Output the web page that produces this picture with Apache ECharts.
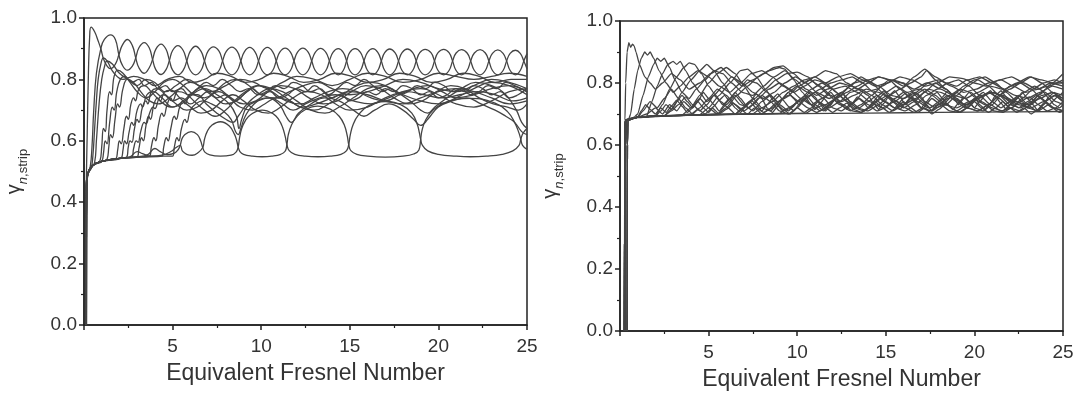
<!DOCTYPE html>
<html><head><meta charset="utf-8">
<script src="https://cdn.jsdelivr.net/npm/echarts@6/dist/echarts.min.js"></script>
<style>html,body{margin:0;padding:0;background:#fff}#c{width:1084px;height:396px}</style>
</head><body><div id="c"></div>
<script>
// ---------- tick labels ----------
const xTicks = [5, 10, 15, 20, 25];
const yTicks = [0.0, 0.2, 0.4, 0.6, 0.8, 1.0];
const xTitle = 'Equivalent Fresnel Number';

// ---------- LEFT PANEL curves [x, y] ----------
const L_A = [[0.1,0],[0.13,0.45],[0.18,0.62],[0.25,0.82],[0.32,0.94],[0.4,0.97],[0.6,0.955],[0.8,0.925],[0.95,0.9],[1.15,0.86],[1.5,0.835],[1.77,0.85],[1.97,0.88],[2.15,0.91],[2.45,0.93],[2.73,0.91],[2.92,0.87],[3.1,0.838],[3.4,0.82],[3.68,0.838],[3.87,0.865],[4.05,0.898],[4.35,0.915],[4.63,0.898],[4.82,0.862],[5.0,0.83],[5.3,0.815],[5.6,0.83],[5.8,0.86],[6.0,0.892],[6.3,0.908],[6.6,0.892],[6.8,0.86],[7.0,0.829],[7.3,0.815],[7.62,0.829],[7.82,0.86],[8.03,0.891],[8.35,0.905],[8.65,0.891],[8.85,0.86],[9.05,0.829],[9.35,0.815],[9.65,0.829],[9.85,0.86],[10.05,0.89],[10.35,0.904],[10.65,0.89],[10.85,0.86],[11.05,0.829],[11.35,0.815],[11.65,0.829],[11.85,0.86],[12.05,0.889],[12.35,0.902],[12.65,0.889],[12.85,0.86],[13.05,0.829],[13.35,0.815],[13.65,0.829],[13.85,0.86],[14.05,0.888],[14.35,0.9],[14.63,0.888],[14.82,0.86],[15.0,0.829],[15.3,0.815],[15.6,0.829],[15.8,0.86],[16.0,0.888],[16.3,0.9],[16.58,0.888],[16.78,0.86],[16.97,0.829],[17.25,0.815],[17.55,0.829],[17.75,0.86],[17.95,0.887],[18.25,0.899],[18.55,0.887],[18.75,0.86],[18.95,0.829],[19.25,0.815],[19.58,0.829],[19.78,0.86],[19.98,0.887],[20.3,0.898],[20.6,0.887],[20.8,0.86],[21.0,0.829],[21.3,0.815],[21.62,0.829],[21.82,0.86],[22.03,0.886],[22.35,0.897],[22.65,0.886],[22.85,0.86],[23.05,0.829],[23.35,0.815],[23.65,0.829],[23.85,0.86],[24.05,0.885],[24.35,0.895],[24.62,0.885],[24.82,0.86],[25,0.835]];
const L_B = [[0.12,0],[0.15,0.45],[0.2,0.49],[0.35,0.515],[0.45,0.58],[0.55,0.7],[0.7,0.82],[0.95,0.9],[1.15,0.93],[1.5,0.945],[1.77,0.93],[1.97,0.88],[2.15,0.848],[2.45,0.83],[2.73,0.843],[2.92,0.87],[3.1,0.903],[3.4,0.92],[3.68,0.903],[3.87,0.865],[4.05,0.832],[4.35,0.816],[4.63,0.832],[4.82,0.862],[5.0,0.894],[5.3,0.91],[5.6,0.894],[5.8,0.86],[6.0,0.829],[6.3,0.815],[6.6,0.829],[6.8,0.86],[7.0,0.892],[7.3,0.906],[7.62,0.892],[7.82,0.86],[8.03,0.829],[8.35,0.815],[8.65,0.829],[8.85,0.86],[9.05,0.89],[9.35,0.904],[9.65,0.89],[9.85,0.86],[10.05,0.829],[10.35,0.815],[10.65,0.829],[10.85,0.86],[11.05,0.889],[11.35,0.902],[11.65,0.889],[11.85,0.86],[12.05,0.829],[12.35,0.815],[12.65,0.829],[12.85,0.86],[13.05,0.888],[13.35,0.901],[13.65,0.888],[13.85,0.86],[14.05,0.829],[14.35,0.815],[14.63,0.829],[14.82,0.86],[15.0,0.888],[15.3,0.9],[15.6,0.888],[15.8,0.86],[16.0,0.829],[16.3,0.815],[16.58,0.829],[16.78,0.86],[16.97,0.887],[17.25,0.899],[17.55,0.887],[17.75,0.86],[17.95,0.829],[18.25,0.815],[18.55,0.829],[18.75,0.86],[18.95,0.887],[19.25,0.898],[19.58,0.887],[19.78,0.86],[19.98,0.829],[20.3,0.815],[20.6,0.829],[20.8,0.86],[21.0,0.886],[21.3,0.897],[21.62,0.886],[21.82,0.86],[22.03,0.829],[22.35,0.815],[22.65,0.829],[22.85,0.86],[23.05,0.885],[23.35,0.896],[23.65,0.885],[23.85,0.86],[24.05,0.829],[24.35,0.815],[24.62,0.829],[24.82,0.86],[25,0.884]];
const L_P = [[0.1,0],[0.16,0.46],[0.25,0.5],[0.5,0.52],[1,0.533],[2,0.543],[3,0.548],[3.6,0.555],[4.0,0.575],[4.3,0.565],[4.7,0.555],[5.1,0.56],[5.3,0.57],[5.43,0.585],[5.52,0.605],[5.68,0.62],[6.05,0.63],[6.4,0.62],[6.58,0.6],[6.7,0.578],[6.82,0.563],[7.1,0.554],[7.7,0.55],[8.3,0.553],[8.58,0.563],[8.7,0.58],[8.78,0.61],[8.9,0.64],[9.1,0.665],[9.4,0.685],[10.05,0.7],[10.7,0.687],[11.0,0.668],[11.2,0.645],[11.35,0.615],[11.45,0.588],[11.58,0.568],[11.9,0.556],[12.5,0.55],[13.2,0.548],[13.9,0.55],[14.5,0.556],[14.82,0.568],[14.94,0.588],[15.03,0.62],[15.2,0.655],[15.5,0.685],[16.0,0.712],[17.0,0.728],[18.0,0.714],[18.5,0.69],[18.8,0.655],[18.93,0.625],[19.0,0.605],[19.1,0.585],[19.4,0.567],[20.0,0.556],[21.0,0.55],[21.8,0.548],[22.7,0.55],[23.6,0.556],[24.2,0.567],[24.55,0.585],[24.65,0.605],[24.78,0.625],[25,0.64]];
const L_Q = [[0.1,0],[0.16,0.46],[0.25,0.5],[0.5,0.52],[1,0.533],[2,0.543],[2.6,0.548],[3.0,0.565],[3.3,0.558],[3.8,0.55],[4.4,0.553],[4.9,0.565],[5.2,0.578],[5.43,0.585],[5.56,0.566],[5.8,0.556],[6.1,0.553],[6.45,0.562],[6.7,0.578],[6.8,0.605],[6.95,0.63],[7.2,0.65],[7.7,0.662],[8.2,0.648],[8.5,0.62],[8.62,0.6],[8.7,0.58],[8.8,0.565],[9.0,0.556],[9.5,0.55],[10.05,0.548],[10.6,0.55],[11.1,0.556],[11.35,0.566],[11.45,0.588],[11.53,0.62],[11.7,0.65],[12.0,0.678],[12.5,0.702],[13.2,0.713],[13.9,0.703],[14.4,0.68],[14.7,0.65],[14.86,0.615],[14.94,0.588],[15.06,0.568],[15.4,0.556],[16.0,0.55],[17.0,0.547],[18.0,0.55],[18.6,0.557],[18.9,0.57],[19.0,0.605],[19.08,0.635],[19.3,0.67],[19.7,0.7],[20.4,0.725],[21.8,0.738],[23.2,0.723],[23.9,0.695],[24.3,0.66],[24.55,0.625],[24.65,0.605],[24.75,0.585],[25,0.572]];
const L_M1 = [[0.1,0],[0.13,0.45],[0.2,0.49],[0.4,0.51],[0.6,0.53],[0.7,0.6],[0.85,0.72],[1.0,0.8],[1.15,0.84],[1.3,0.86],[1.6,0.85],[2.0,0.82],[2.5,0.8],[3.0,0.78],[3.5,0.8],[4.0,0.79],[4.6,0.76],[5.2,0.78],[5.8,0.8],[6.5,0.78],[7.2,0.76],[8.0,0.78],[8.8,0.8],[9.6,0.79],[10.4,0.77],[11.2,0.79],[12.0,0.81],[13.0,0.8],[14.0,0.78],[15.0,0.8],[16.0,0.82],[17.0,0.81],[18.0,0.79],[19.0,0.8],[20.0,0.82],[21.0,0.81],[22.0,0.8],[23.0,0.81],[24.0,0.82],[25,0.81]];
const L_M2 = [[0.1,0],[0.13,0.45],[0.2,0.49],[0.5,0.52],[0.9,0.535],[1.0,0.58],[1.1,0.64],[1.2,0.63],[1.3,0.7],[1.45,0.76],[1.55,0.75],[1.7,0.81],[1.9,0.83],[2.2,0.82],[2.6,0.79],[3.0,0.76],[3.5,0.74],[4.0,0.76],[4.5,0.79],[5.0,0.8],[5.6,0.78],[6.2,0.75],[6.8,0.74],[7.4,0.76],[8.0,0.79],[8.6,0.8],[9.3,0.78],[10.0,0.75],[10.8,0.74],[11.6,0.76],[12.4,0.78],[13.2,0.79],[14.0,0.77],[15.0,0.75],[16.0,0.76],[17.0,0.78],[18.0,0.8],[19.0,0.79],[20.0,0.77],[21.0,0.76],[22.0,0.78],[23.0,0.8],[24.0,0.79],[25,0.77]];
const L_M3 = [[0.12,0],[0.15,0.45],[0.2,0.49],[0.5,0.52],[1.0,0.533],[1.3,0.54],[1.4,0.58],[1.5,0.62],[1.6,0.61],[1.75,0.67],[1.9,0.72],[2.0,0.71],[2.2,0.77],[2.45,0.8],[2.8,0.79],[3.2,0.76],[3.7,0.73],[4.2,0.72],[4.8,0.74],[5.4,0.77],[6.0,0.79],[6.7,0.77],[7.4,0.74],[8.0,0.72],[8.6,0.73],[9.2,0.76],[9.9,0.78],[10.6,0.76],[11.4,0.73],[12.2,0.72],[13.0,0.74],[13.8,0.76],[14.6,0.77],[15.4,0.76],[16.2,0.74],[17.0,0.73],[17.8,0.75],[18.6,0.77],[19.4,0.78],[20.2,0.76],[21.0,0.74],[22.0,0.75],[23.0,0.77],[24.0,0.78],[25,0.76]];
const L_M4 = [[0.1,0],[0.13,0.45],[0.2,0.49],[0.5,0.52],[1.0,0.533],[1.8,0.542],[1.9,0.57],[2.0,0.6],[2.1,0.59],[2.25,0.64],[2.4,0.68],[2.5,0.67],[2.65,0.72],[2.8,0.74],[2.9,0.73],[3.1,0.77],[3.4,0.78],[3.8,0.76],[4.3,0.73],[4.9,0.71],[5.5,0.72],[6.1,0.75],[6.8,0.77],[7.5,0.75],[8.2,0.72],[8.6,0.68],[8.75,0.64],[8.9,0.67],[9.2,0.71],[9.8,0.73],[10.5,0.74],[11.2,0.72],[11.8,0.7],[12.5,0.72],[13.3,0.74],[14.2,0.75],[15.2,0.73],[16.2,0.72],[17.2,0.74],[18.2,0.76],[19.2,0.75],[20.2,0.74],[21.2,0.75],[22.2,0.76],[23.2,0.75],[24.2,0.73],[25,0.74]];
const L_M5 = [[0.14,0],[0.17,0.46],[0.22,0.49],[0.5,0.52],[1.0,0.533],[2.0,0.543],[2.4,0.546],[2.5,0.58],[2.6,0.6],[2.7,0.595],[2.85,0.64],[3.0,0.67],[3.1,0.66],[3.3,0.71],[3.5,0.73],[3.6,0.72],[3.8,0.76],[4.1,0.77],[4.6,0.75],[5.2,0.72],[5.8,0.7],[6.4,0.71],[7.0,0.74],[7.6,0.76],[8.2,0.74],[8.8,0.71],[9.5,0.7],[10.2,0.72],[10.9,0.74],[11.6,0.73],[12.3,0.71],[13.1,0.72],[14.0,0.74],[15.0,0.76],[16.0,0.75],[17.0,0.73],[18.0,0.72],[19.0,0.74],[20.0,0.76],[21.0,0.77],[22.0,0.76],[23.0,0.74],[24.0,0.72],[25,0.73]];
const L_M6 = [[0.1,0],[0.13,0.45],[0.2,0.49],[0.5,0.52],[1.0,0.533],[2.0,0.543],[3.0,0.547],[3.1,0.575],[3.25,0.61],[3.35,0.6],[3.5,0.65],[3.65,0.68],[3.75,0.67],[3.95,0.72],[4.15,0.74],[4.3,0.73],[4.55,0.76],[4.9,0.765],[5.4,0.74],[6.0,0.71],[6.6,0.69],[7.2,0.7],[7.8,0.73],[8.4,0.75],[9.0,0.73],[9.7,0.7],[10.4,0.69],[11.1,0.71],[11.8,0.74],[12.6,0.76],[13.4,0.75],[14.2,0.72],[15.0,0.7],[16.0,0.71],[17.0,0.74],[18.0,0.76],[19.0,0.77],[20.0,0.75],[21.0,0.72],[22.0,0.71],[23.0,0.73],[24.0,0.76],[25,0.77]];
const L_M7 = [[0.12,0],[0.15,0.45],[0.2,0.49],[0.5,0.52],[1.0,0.533],[2.0,0.543],[3.0,0.547],[3.7,0.55],[3.8,0.58],[3.95,0.61],[4.05,0.6],[4.2,0.65],[4.4,0.69],[4.5,0.68],[4.7,0.72],[4.9,0.74],[5.0,0.73],[5.3,0.76],[5.7,0.755],[6.2,0.73],[6.8,0.7],[7.4,0.68],[8.0,0.7],[8.5,0.73],[9.1,0.76],[9.8,0.78],[10.6,0.77],[11.4,0.74],[12.2,0.71],[13.0,0.7],[13.8,0.72],[14.6,0.75],[15.4,0.78],[16.2,0.79],[17.0,0.78],[18.0,0.75],[19.0,0.73],[20.0,0.72],[21.0,0.74],[22.0,0.77],[23.0,0.79],[24.0,0.78],[25,0.75]];
const L_M8 = [[0.1,0],[0.13,0.45],[0.2,0.49],[0.5,0.52],[1.0,0.533],[2.0,0.543],[3.0,0.547],[4.4,0.55],[4.5,0.58],[4.65,0.61],[4.75,0.6],[4.9,0.64],[5.1,0.68],[5.2,0.67],[5.4,0.71],[5.6,0.73],[5.7,0.72],[6.0,0.75],[6.4,0.75],[6.9,0.72],[7.5,0.69],[8.0,0.67],[8.4,0.66],[8.7,0.68],[9.2,0.72],[9.8,0.75],[10.5,0.77],[11.2,0.76],[12.0,0.73],[12.8,0.7],[13.6,0.69],[14.4,0.71],[15.2,0.74],[16.0,0.77],[16.8,0.78],[17.6,0.76],[18.4,0.73],[19.0,0.7],[19.4,0.69],[19.8,0.71],[20.5,0.74],[21.3,0.77],[22.1,0.79],[23.0,0.78],[23.8,0.75],[24.4,0.7],[24.7,0.66],[25,0.64]];
const L_M9 = [[0.14,0],[0.17,0.46],[0.22,0.49],[0.5,0.52],[1.0,0.533],[2.0,0.543],[3.0,0.547],[4.0,0.55],[5.0,0.55],[5.1,0.58],[5.25,0.61],[5.35,0.6],[5.5,0.64],[5.7,0.67],[5.8,0.66],[6.0,0.7],[6.3,0.72],[6.7,0.73],[7.2,0.72],[7.8,0.7],[8.3,0.67],[8.55,0.63],[8.7,0.62],[8.85,0.64],[9.1,0.68],[9.6,0.72],[10.3,0.74],[11.0,0.72],[11.4,0.68],[11.7,0.66],[12.1,0.69],[12.8,0.72],[13.6,0.74],[14.4,0.73],[15.2,0.7],[15.8,0.68],[16.4,0.7],[17.2,0.72],[18.0,0.7],[18.6,0.67],[19.0,0.65],[19.4,0.67],[20.0,0.71],[20.8,0.73],[21.6,0.74],[22.4,0.72],[23.2,0.7],[23.8,0.68],[24.3,0.66],[24.7,0.63],[25,0.62]];
const L_M10 = [[0.1,0],[0.13,0.45],[0.2,0.49],[0.4,0.51],[0.5,0.55],[0.6,0.64],[0.7,0.73],[0.8,0.8],[0.95,0.85],[1.1,0.87],[1.3,0.86],[1.7,0.82],[2.2,0.8],[2.8,0.81],[3.4,0.8],[4.0,0.78],[4.7,0.8],[5.4,0.81],[6.1,0.79],[6.8,0.8],[7.5,0.82],[8.3,0.81],[9.1,0.79],[9.9,0.8],[10.7,0.82],[11.5,0.81],[12.4,0.79],[13.3,0.8],[14.2,0.82],[15.1,0.81],[16.0,0.79],[16.9,0.8],[17.8,0.82],[18.7,0.81],[19.6,0.79],[20.5,0.8],[21.4,0.82],[22.3,0.81],[23.2,0.79],[24.1,0.8],[25,0.8]];
const L_M11 = [[0.1,0],[0.13,0.45],[0.2,0.49],[0.5,0.52],[1.0,0.533],[2.1,0.544],[2.2,0.57],[2.3,0.6],[2.4,0.59],[2.55,0.63],[2.7,0.66],[2.8,0.65],[3.0,0.7],[3.2,0.72],[3.3,0.71],[3.55,0.75],[3.9,0.76],[4.4,0.74],[5.0,0.71],[5.6,0.73],[6.2,0.76],[6.9,0.78],[7.6,0.77],[8.3,0.74],[9.0,0.72],[9.7,0.73],[10.4,0.76],[11.1,0.78],[11.9,0.77],[12.7,0.74],[13.5,0.72],[14.3,0.73],[15.1,0.76],[15.9,0.78],[16.7,0.77],[17.5,0.74],[18.3,0.72],[19.1,0.73],[19.9,0.76],[20.7,0.78],[21.5,0.77],[22.3,0.74],[23.1,0.72],[23.9,0.71],[24.5,0.7],[25,0.72]];
const L_M12 = [[0.1,0],[0.13,0.45],[0.2,0.49],[0.5,0.52],[1.0,0.533],[1.1,0.56],[1.2,0.6],[1.3,0.59],[1.45,0.66],[1.6,0.71],[1.7,0.7],[1.85,0.76],[2.05,0.8],[2.3,0.81],[2.7,0.79],[3.1,0.8],[3.4,0.78],[3.8,0.79],[4.2,0.77],[4.6,0.78],[5.0,0.76],[5.5,0.77],[5.9,0.75],[6.4,0.77],[6.9,0.79],[7.3,0.78],[7.8,0.8],[8.3,0.78],[8.8,0.76],[9.3,0.77],[9.8,0.75],[10.3,0.76],[10.8,0.78],[11.3,0.77],[11.8,0.79],[12.3,0.78],[12.8,0.76],[13.3,0.77],[13.8,0.75],[14.3,0.77],[14.8,0.79],[15.3,0.78],[15.8,0.8],[16.3,0.78],[16.8,0.76],[17.3,0.77],[17.8,0.75],[18.3,0.76],[18.8,0.78],[19.3,0.77],[19.8,0.79],[20.3,0.78],[20.8,0.76],[21.3,0.77],[21.8,0.75],[22.3,0.76],[22.8,0.78],[23.3,0.77],[23.8,0.79],[24.3,0.78],[25,0.76]];
const L_M13 = [[0.12,0],[0.15,0.45],[0.2,0.49],[0.5,0.52],[1.0,0.533],[2.0,0.543],[2.7,0.547],[2.8,0.575],[2.95,0.6],[3.05,0.595],[3.2,0.63],[3.4,0.66],[3.5,0.655],[3.7,0.69],[3.9,0.71],[4.0,0.705],[4.25,0.74],[4.5,0.75],[5.0,0.73],[5.5,0.74],[6.0,0.72],[6.5,0.74],[7.0,0.76],[7.5,0.74],[8.0,0.75],[8.5,0.73],[9.0,0.75],[9.5,0.77],[10.0,0.75],[10.5,0.76],[11.0,0.74],[11.5,0.75],[12.0,0.77],[12.5,0.76],[13.0,0.78],[13.5,0.76],[14.0,0.74],[14.5,0.75],[15.0,0.73],[15.5,0.74],[16.0,0.76],[16.5,0.75],[17.0,0.77],[17.5,0.76],[18.0,0.78],[18.5,0.77],[19.0,0.75],[19.5,0.76],[20.0,0.74],[20.5,0.75],[21.0,0.77],[21.5,0.76],[22.0,0.78],[22.5,0.77],[23.0,0.75],[23.5,0.76],[24.0,0.74],[24.5,0.75],[25,0.77]];
const leftCurves = [L_A, L_B, L_P, L_Q, L_M1, L_M2, L_M3, L_M4, L_M5, L_M6, L_M7, L_M8, L_M9, L_M10, L_M11, L_M12, L_M13];

// ---------- RIGHT PANEL curves [x, y] ----------
const R_01 = [[0.25,0],[0.26,0.6],[0.28,0.68],[0.32,0.8],[0.4,0.9],[0.5,0.93],[0.6,0.915],[0.7,0.925],[0.8,0.92],[0.9,0.9],[1.1,0.86],[1.4,0.82],[1.7,0.8],[2.0,0.78],[2.4,0.8],[2.9,0.83],[3.4,0.81],[3.9,0.78],[4.5,0.8],[5.1,0.83],[5.7,0.85],[6.3,0.82],[6.9,0.79],[7.5,0.81],[8.1,0.83],[8.7,0.85],[9.2,0.855],[9.8,0.83],[10.4,0.8],[11.0,0.82],[11.6,0.84],[12.2,0.83],[12.8,0.8],[13.4,0.78],[14.0,0.8],[14.6,0.82],[15.3,0.81],[16.0,0.79],[16.6,0.82],[17.2,0.845],[17.8,0.82],[18.4,0.8],[19.0,0.79],[19.6,0.81],[20.3,0.82],[21.0,0.8],[21.7,0.78],[22.4,0.8],[23.1,0.82],[23.8,0.81],[24.4,0.8],[25,0.83]];
const R_02 = [[0.25,0],[0.27,0.6],[0.3,0.68],[0.5,0.685],[0.6,0.7],[0.8,0.78],[1.0,0.84],[1.2,0.88],[1.4,0.9],[1.55,0.89],[1.7,0.9],[1.9,0.88],[2.2,0.84],[2.6,0.8],[3.0,0.77],[3.4,0.79],[3.9,0.82],[4.4,0.84],[5.0,0.82],[5.6,0.79],[6.2,0.77],[6.8,0.8],[7.4,0.83],[8.0,0.84],[8.6,0.82],[9.2,0.79],[9.8,0.77],[10.4,0.79],[11.0,0.81],[11.6,0.8],[12.3,0.82],[13.0,0.83],[13.7,0.81],[14.4,0.79],[15.1,0.8],[15.8,0.82],[16.5,0.81],[17.2,0.79],[17.9,0.8],[18.6,0.82],[19.3,0.815],[20.0,0.8],[20.7,0.79],[21.4,0.81],[22.1,0.82],[22.8,0.8],[23.5,0.78],[24.2,0.79],[25,0.81]];
const R_03 = [[0.25,0],[0.27,0.6],[0.3,0.68],[0.8,0.69],[1.0,0.7],[1.3,0.76],[1.6,0.82],[1.9,0.86],[2.1,0.88],[2.3,0.87],[2.5,0.88],[2.8,0.85],[3.1,0.81],[3.5,0.77],[3.9,0.75],[4.3,0.78],[4.8,0.81],[5.3,0.84],[5.8,0.83],[6.3,0.8],[6.9,0.77],[7.5,0.76],[8.1,0.79],[8.7,0.82],[9.3,0.84],[9.9,0.81],[10.5,0.78],[11.1,0.76],[11.7,0.78],[12.4,0.8],[13.1,0.79],[13.8,0.77],[14.5,0.78],[15.2,0.81],[15.9,0.8],[16.6,0.78],[17.3,0.8],[18.0,0.81],[18.7,0.79],[19.4,0.77],[20.1,0.78],[20.8,0.8],[21.5,0.81],[22.2,0.79],[22.9,0.77],[23.6,0.78],[24.3,0.8],[25,0.79]];
const R_04 = [[0.3,0],[0.32,0.6],[0.35,0.68],[1.0,0.69],[1.5,0.692],[1.8,0.74],[2.1,0.79],[2.4,0.83],[2.7,0.86],[3.0,0.87],[3.2,0.86],[3.4,0.87],[3.7,0.84],[4.1,0.8],[4.5,0.77],[4.9,0.74],[5.3,0.76],[5.8,0.79],[6.3,0.82],[6.9,0.8],[7.5,0.77],[8.1,0.75],[8.7,0.77],[9.3,0.8],[9.9,0.82],[10.5,0.8],[11.1,0.77],[11.8,0.75],[12.5,0.77],[13.2,0.8],[13.9,0.81],[14.6,0.79],[15.3,0.76],[16.0,0.75],[16.7,0.77],[17.4,0.8],[18.1,0.78],[18.8,0.76],[19.5,0.75],[20.2,0.77],[20.9,0.79],[21.6,0.78],[22.3,0.76],[23.0,0.75],[23.7,0.77],[24.4,0.79],[25,0.78]];
const R_05 = [[0.3,0],[0.32,0.6],[0.35,0.68],[1.0,0.69],[2.0,0.694],[2.4,0.73],[2.8,0.78],[3.2,0.82],[3.6,0.85],[3.9,0.865],[4.2,0.86],[4.6,0.83],[5.0,0.79],[5.4,0.76],[5.8,0.73],[6.2,0.75],[6.7,0.78],[7.2,0.81],[7.7,0.8],[8.3,0.77],[8.9,0.74],[9.5,0.76],[10.1,0.79],[10.7,0.81],[11.3,0.79],[11.9,0.76],[12.5,0.74],[13.2,0.76],[13.9,0.78],[14.6,0.77],[15.3,0.75],[16.0,0.73],[16.7,0.75],[17.4,0.78],[18.1,0.77],[18.8,0.75],[19.5,0.73],[20.2,0.75],[20.9,0.77],[21.6,0.76],[22.3,0.74],[23.0,0.73],[23.7,0.75],[24.4,0.77],[25,0.76]];
const R_06 = [[0.4,0],[0.42,0.6],[0.45,0.68],[1.0,0.69],[2.5,0.695],[3.0,0.72],[3.5,0.77],[4.0,0.81],[4.5,0.84],[4.9,0.86],[5.3,0.84],[5.8,0.8],[6.3,0.76],[6.8,0.73],[7.3,0.72],[7.8,0.75],[8.4,0.78],[9.0,0.8],[9.6,0.78],[10.2,0.75],[10.8,0.73],[11.4,0.75],[12.0,0.78],[12.7,0.79],[13.4,0.77],[14.1,0.74],[14.8,0.72],[15.5,0.74],[16.2,0.77],[16.9,0.78],[17.6,0.76],[18.3,0.73],[19.0,0.72],[19.7,0.74],[20.4,0.76],[21.1,0.77],[21.8,0.75],[22.5,0.73],[23.2,0.72],[23.9,0.74],[24.6,0.76],[25,0.75]];
const R_07 = [[0.25,0],[0.27,0.6],[0.3,0.68],[1.0,0.69],[2.0,0.693],[3.5,0.697],[4.0,0.72],[4.5,0.76],[5.0,0.8],[5.5,0.83],[6.0,0.85],[6.5,0.83],[7.0,0.79],[7.5,0.75],[8.0,0.72],[8.5,0.71],[9.0,0.74],[9.5,0.77],[10.0,0.79],[10.6,0.77],[11.2,0.74],[11.8,0.72],[12.4,0.74],[13.0,0.77],[13.6,0.78],[14.2,0.76],[14.8,0.73],[15.4,0.71],[16.0,0.73],[16.6,0.76],[17.2,0.78],[17.8,0.76],[18.4,0.73],[19.0,0.71],[19.6,0.73],[20.2,0.75],[20.8,0.77],[21.4,0.75],[22.0,0.72],[22.6,0.71],[23.2,0.73],[23.8,0.76],[24.4,0.77],[25,0.75]];
const R_08 = [[0.25,0],[0.27,0.6],[0.3,0.68],[1.0,0.69],[2.0,0.693],[3.0,0.695],[4.5,0.698],[5.0,0.72],[5.6,0.76],[6.2,0.8],[6.8,0.84],[7.2,0.845],[7.7,0.82],[8.2,0.78],[8.7,0.74],[9.2,0.71],[9.7,0.72],[10.2,0.75],[10.8,0.78],[11.4,0.8],[12.0,0.78],[12.6,0.75],[13.2,0.72],[13.8,0.71],[14.4,0.74],[15.0,0.77],[15.6,0.79],[16.2,0.77],[16.8,0.74],[17.4,0.72],[18.0,0.73],[18.6,0.76],[19.2,0.78],[19.8,0.77],[20.4,0.74],[21.0,0.72],[21.6,0.71],[22.2,0.74],[22.8,0.77],[23.4,0.79],[24.0,0.77],[24.6,0.74],[25,0.73]];
const R_09 = [[0.3,0],[0.32,0.6],[0.35,0.68],[1.0,0.69],[2.0,0.693],[3.0,0.695],[5.5,0.7],[6.0,0.72],[6.6,0.76],[7.2,0.79],[7.8,0.82],[8.4,0.84],[9.0,0.85],[9.3,0.845],[9.8,0.81],[10.3,0.77],[10.8,0.73],[11.3,0.71],[11.8,0.73],[12.4,0.76],[13.0,0.79],[13.6,0.82],[14.2,0.8],[14.8,0.77],[15.4,0.74],[16.0,0.72],[16.6,0.74],[17.2,0.77],[17.8,0.8],[18.4,0.78],[19.0,0.75],[19.6,0.72],[20.2,0.71],[20.8,0.73],[21.4,0.76],[22.0,0.79],[22.6,0.8],[23.2,0.78],[23.8,0.75],[24.4,0.72],[25,0.71]];
const R_10 = [[0.25,0],[0.27,0.6],[0.3,0.68],[1.0,0.69],[2.0,0.693],[3.0,0.695],[6.5,0.7],[7.0,0.72],[7.6,0.75],[8.2,0.78],[8.8,0.81],[9.4,0.83],[10.0,0.835],[10.6,0.82],[11.2,0.79],[11.8,0.76],[12.4,0.73],[13.0,0.71],[13.6,0.73],[14.2,0.76],[14.8,0.79],[15.4,0.81],[16.0,0.8],[16.6,0.77],[17.2,0.74],[17.8,0.72],[18.4,0.73],[19.0,0.76],[19.6,0.79],[20.2,0.81],[20.8,0.79],[21.4,0.76],[22.0,0.73],[22.6,0.72],[23.2,0.74],[23.8,0.77],[24.4,0.8],[25,0.8]];
const R_11 = [[0.4,0],[0.42,0.6],[0.45,0.68],[1.0,0.69],[2.0,0.693],[3.0,0.695],[7.5,0.701],[8.0,0.72],[8.6,0.74],[9.2,0.77],[9.8,0.79],[10.4,0.81],[11.0,0.82],[11.6,0.8],[12.2,0.77],[12.8,0.74],[13.4,0.72],[14.0,0.71],[14.6,0.73],[15.2,0.76],[15.8,0.78],[16.4,0.8],[17.0,0.82],[17.3,0.84],[17.8,0.81],[18.4,0.78],[19.0,0.75],[19.6,0.72],[20.2,0.71],[20.8,0.73],[21.4,0.76],[22.0,0.78],[22.6,0.8],[23.2,0.82],[23.8,0.8],[24.4,0.77],[25,0.74]];
const R_12 = [[0.25,0],[0.27,0.6],[0.3,0.68],[1.0,0.69],[2.0,0.693],[3.0,0.695],[9.0,0.702],[9.5,0.72],[10.1,0.74],[10.7,0.76],[11.3,0.78],[11.9,0.8],[12.5,0.81],[13.1,0.82],[13.7,0.8],[14.3,0.77],[14.9,0.74],[15.5,0.72],[16.1,0.71],[16.7,0.73],[17.3,0.76],[17.9,0.78],[18.5,0.8],[19.1,0.81],[19.7,0.79],[20.3,0.76],[20.9,0.73],[21.5,0.71],[22.1,0.72],[22.7,0.75],[23.3,0.78],[23.9,0.8],[24.5,0.81],[25,0.8]];
const R_13 = [[0.25,0],[0.27,0.6],[0.3,0.68],[1.0,0.69],[2.0,0.693],[3.0,0.695],[10.5,0.703],[11.0,0.72],[11.6,0.73],[12.2,0.75],[12.8,0.77],[13.4,0.79],[14.0,0.81],[14.6,0.82],[15.2,0.81],[15.8,0.78],[16.4,0.75],[17.0,0.72],[17.6,0.71],[18.2,0.73],[18.8,0.76],[19.4,0.79],[20.0,0.81],[20.6,0.82],[21.2,0.8],[21.8,0.77],[22.4,0.74],[23.0,0.72],[23.6,0.71],[24.2,0.73],[24.8,0.76],[25,0.77]];
const R_14 = [[0.25,0],[0.27,0.6],[0.3,0.68],[0.5,0.685],[1,0.69],[1.5,0.7],[2.0,0.72],[2.4,0.7],[2.8,0.73],[3.2,0.71],[3.6,0.74],[4.0,0.72],[4.5,0.75],[5.0,0.72],[5.5,0.7],[6.0,0.73],[6.5,0.76],[7.0,0.73],[7.5,0.71],[8.0,0.74],[8.5,0.76],[9.0,0.73],[9.5,0.71],[10.0,0.74],[10.5,0.76],[11.0,0.73],[11.5,0.71],[12.0,0.74],[12.5,0.77],[13.0,0.74],[13.5,0.72],[14.0,0.74],[14.5,0.76],[15.0,0.74],[15.5,0.72],[16.0,0.75],[16.5,0.77],[17.0,0.74],[17.5,0.72],[18.0,0.74],[18.5,0.76],[19.0,0.74],[19.5,0.72],[20.0,0.75],[20.5,0.77],[21.0,0.74],[21.5,0.72],[22.0,0.74],[22.5,0.76],[23.0,0.73],[23.5,0.71],[24.0,0.74],[24.5,0.76],[25,0.74]];
const R_15 = [[0.3,0],[0.32,0.6],[0.35,0.68],[1,0.69],[1.3,0.71],[1.7,0.74],[2.1,0.72],[2.5,0.75],[2.9,0.78],[3.3,0.75],[3.7,0.72],[4.1,0.7],[4.5,0.72],[5.0,0.75],[5.5,0.78],[6.0,0.76],[6.5,0.73],[7.0,0.71],[7.5,0.73],[8.0,0.76],[8.5,0.74],[9.0,0.71],[9.5,0.7],[10.0,0.72],[10.5,0.75],[11.0,0.77],[11.5,0.75],[12.0,0.72],[12.5,0.71],[13.0,0.73],[13.5,0.75],[14.0,0.73],[14.5,0.71],[15.0,0.72],[15.5,0.75],[16.0,0.77],[16.5,0.75],[17.0,0.72],[17.5,0.71],[18.0,0.73],[18.5,0.75],[19.0,0.77],[19.5,0.75],[20.0,0.72],[20.5,0.71],[21.0,0.73],[21.5,0.76],[22.0,0.74],[22.5,0.72],[23.0,0.74],[23.5,0.76],[24.0,0.74],[24.5,0.72],[25,0.71]];
const R_16 = [[0.4,0],[0.42,0.6],[0.45,0.68],[1,0.69],[2.5,0.695],[2.9,0.71],[3.3,0.73],[3.7,0.755],[4.1,0.73],[4.5,0.71],[4.9,0.73],[5.3,0.76],[5.7,0.74],[6.1,0.72],[6.5,0.7],[6.9,0.72],[7.3,0.74],[7.7,0.72],[8.1,0.705],[8.6,0.72],[9.1,0.745],[9.6,0.76],[10.1,0.74],[10.6,0.72],[11.1,0.705],[11.6,0.72],[12.1,0.745],[12.6,0.73],[13.1,0.71],[13.6,0.705],[14.1,0.72],[14.6,0.745],[15.1,0.76],[15.6,0.74],[16.1,0.72],[16.6,0.705],[17.1,0.72],[17.6,0.75],[18.1,0.73],[18.6,0.71],[19.1,0.705],[19.6,0.72],[20.1,0.745],[20.6,0.73],[21.1,0.71],[21.6,0.705],[22.1,0.72],[22.6,0.74],[23.1,0.755],[23.6,0.73],[24.1,0.71],[24.6,0.72],[25,0.74]];
const R_17 = [[0.25,0],[0.27,0.6],[0.3,0.68],[1,0.69],[3.5,0.697],[4.0,0.7],[4.4,0.715],[4.8,0.7],[5.2,0.72],[5.6,0.7],[6.0,0.715],[6.4,0.735],[6.8,0.715],[7.2,0.7],[7.6,0.72],[8.0,0.7],[8.4,0.715],[8.8,0.735],[9.2,0.715],[9.6,0.7],[10.0,0.72],[10.4,0.705],[10.8,0.72],[11.2,0.74],[11.6,0.72],[12.0,0.705],[12.4,0.72],[12.8,0.735],[13.2,0.715],[13.6,0.705],[14.0,0.72],[14.4,0.74],[14.8,0.72],[15.2,0.705],[15.6,0.72],[16.0,0.74],[16.4,0.72],[16.8,0.705],[17.2,0.72],[17.6,0.7],[18.0,0.715],[18.4,0.735],[18.8,0.715],[19.2,0.705],[19.6,0.72],[20.0,0.74],[20.4,0.72],[20.8,0.705],[21.2,0.72],[21.6,0.74],[22.0,0.72],[22.4,0.705],[22.8,0.72],[23.2,0.7],[23.6,0.715],[24.0,0.735],[24.4,0.72],[24.8,0.705],[25,0.71]];
const R_18 = [[0.25,0],[0.27,0.6],[0.3,0.675],[0.6,0.683],[1,0.688],[2,0.692],[3,0.695],[5,0.698],[8,0.7],[12,0.702],[16,0.704],[20,0.706],[25,0.708]];
const R_19 = [[0.3,0],[0.32,0.6],[0.35,0.68],[1,0.69],[2,0.693],[2.3,0.71],[2.6,0.73],[2.9,0.715],[3.2,0.74],[3.5,0.76],[3.8,0.74],[4.1,0.72],[4.4,0.74],[4.7,0.77],[5.0,0.75],[5.3,0.73],[5.6,0.71],[5.9,0.73],[6.2,0.75],[6.5,0.77],[6.8,0.75],[7.1,0.73],[7.4,0.745],[7.7,0.765],[8.0,0.75],[8.3,0.72],[8.6,0.705],[8.9,0.725],[9.2,0.75],[9.5,0.77],[9.8,0.75],[10.1,0.73],[10.4,0.75],[10.7,0.77],[11.0,0.755],[11.3,0.73],[11.6,0.71],[11.9,0.73],[12.2,0.755],[12.5,0.77],[12.8,0.75],[13.1,0.73],[13.4,0.75],[13.7,0.77],[14.0,0.76],[14.3,0.735],[14.6,0.715],[14.9,0.735],[15.2,0.76],[15.5,0.775],[15.8,0.755],[16.1,0.73],[16.4,0.75],[16.7,0.77],[17.0,0.755],[17.3,0.73],[17.6,0.71],[17.9,0.73],[18.2,0.755],[18.5,0.775],[18.8,0.755],[19.1,0.73],[19.4,0.75],[19.7,0.77],[20.0,0.755],[20.3,0.73],[20.6,0.715],[20.9,0.735],[21.2,0.76],[21.5,0.775],[21.8,0.755],[22.1,0.73],[22.4,0.75],[22.7,0.77],[23.0,0.75],[23.3,0.73],[23.6,0.71],[23.9,0.73],[24.2,0.755],[24.5,0.77],[24.8,0.75],[25,0.74]];
const R_20 = [[0.4,0],[0.42,0.6],[0.45,0.68],[1,0.69],[1.2,0.71],[1.45,0.73],[1.7,0.715],[2.0,0.7],[2.3,0.72],[2.6,0.705],[2.9,0.725],[3.2,0.745],[3.5,0.725],[3.8,0.705],[4.1,0.72],[4.4,0.74],[4.7,0.72],[5.0,0.705],[5.3,0.725],[5.6,0.745],[5.9,0.76],[6.2,0.74],[6.5,0.72],[6.8,0.705],[7.1,0.725],[7.4,0.745],[7.7,0.73],[8.0,0.71],[8.3,0.73],[8.6,0.75],[8.9,0.765],[9.2,0.745],[9.5,0.725],[9.8,0.71],[10.1,0.73],[10.4,0.75],[10.7,0.735],[11.0,0.715],[11.3,0.735],[11.6,0.755],[11.9,0.77],[12.2,0.75],[12.5,0.73],[12.8,0.715],[13.1,0.735],[13.4,0.755],[13.7,0.74],[14.0,0.72],[14.3,0.74],[14.6,0.76],[14.9,0.775],[15.2,0.755],[15.5,0.735],[15.8,0.715],[16.1,0.735],[16.4,0.755],[16.7,0.74],[17.0,0.72],[17.3,0.74],[17.6,0.76],[17.9,0.77],[18.2,0.75],[18.5,0.73],[18.8,0.715],[19.1,0.735],[19.4,0.755],[19.7,0.74],[20.0,0.72],[20.3,0.74],[20.6,0.76],[20.9,0.775],[21.2,0.755],[21.5,0.735],[21.8,0.715],[22.1,0.735],[22.4,0.755],[22.7,0.74],[23.0,0.72],[23.3,0.74],[23.6,0.76],[23.9,0.77],[24.2,0.75],[24.5,0.73],[24.8,0.72],[25,0.73]];
const rightCurves = [R_01, R_02, R_03, R_04, R_05, R_06, R_07, R_08, R_09, R_10, R_11, R_12, R_13, R_14, R_15, R_16, R_17, R_18, R_19, R_20];

// ---------- chart ----------
const chart = echarts.init(document.getElementById('c'), null, {renderer: 'canvas'});
const FONT = 'Liberation Sans, Arial, sans-serif';
const INK = '#222';
const TXT = '#333';
function xAx(grid) {
  return {
    type: 'value', gridIndex: grid, min: 0, max: 25, interval: 5,
    axisLine: {show: true, onZero: false, lineStyle: {color: INK, width: 1.5}},
    axisTick: {show: true, inside: false, length: 5, lineStyle: {color: INK, width: 1.5}},
    minorTick: {show: true, splitNumber: 2, length: 3, lineStyle: {color: INK, width: 1.2}},
    splitLine: {show: false},
    axisLabel: {fontSize: 19, color: TXT, fontFamily: FONT, margin: 12,
      formatter: v => (xTicks.indexOf(v) >= 0 ? String(v) : '')},
    name: xTitle, nameLocation: 'middle', nameGap: 37,
    nameTextStyle: {fontSize: 23, color: TXT, fontFamily: FONT}
  };
}
function yAx(grid) {
  return {
    type: 'value', gridIndex: grid, min: 0, max: 1, interval: 0.2,
    axisLine: {show: true, onZero: false, lineStyle: {color: INK, width: 1.5}},
    axisTick: {show: true, inside: false, length: 5, lineStyle: {color: INK, width: 1.5}},
    minorTick: {show: true, splitNumber: 2, length: 3, lineStyle: {color: INK, width: 1.2}},
    splitLine: {show: false},
    axisLabel: {fontSize: 19, color: TXT, fontFamily: FONT, margin: 7,
      formatter: v => { const t = yTicks.find(k => Math.abs(k - v) < 1e-6); return t === undefined ? '' : t.toFixed(1); }},
    name: '{g|γ}{n|n}{s|,strip}', nameLocation: 'middle', nameRotate: 90, nameGap: 54,
    nameTextStyle: {color: TXT, fontFamily: FONT,
      rich: {
        g: {fontSize: 20, fontFamily: FONT, color: TXT, lineHeight: 26, verticalAlign: 'top'},
        n: {fontSize: 13, fontStyle: 'italic', fontFamily: FONT, color: TXT, lineHeight: 26, verticalAlign: 'bottom'},
        s: {fontSize: 13, fontFamily: FONT, color: TXT, lineHeight: 26, verticalAlign: 'bottom'}
      }}
  };
}
function mk(curves, grid, smooth, mono) {
  return curves.map(d => ({
    type: 'line', xAxisIndex: grid, yAxisIndex: grid, data: d,
    showSymbol: false, smooth: smooth, smoothMonotone: mono, silent: true,
    lineStyle: {color: '#444', width: 1.3}
  }));
}
chart.setOption({
  animation: false,
  backgroundColor: '#fff',
  grid: [
    {left: 84, top: 18, width: 443, height: 307, show: true, borderColor: INK, borderWidth: 1.5, backgroundColor: 'transparent'},
    {left: 620, top: 21, width: 443, height: 310, show: true, borderColor: INK, borderWidth: 1.5, backgroundColor: 'transparent'}
  ],
  xAxis: [xAx(0), xAx(1)],
  yAxis: [yAx(0), yAx(1)],
  series: mk(leftCurves, 0, 0.45, null).concat(mk(rightCurves, 1, 0.15, 'x'))
});
</script></body></html>
